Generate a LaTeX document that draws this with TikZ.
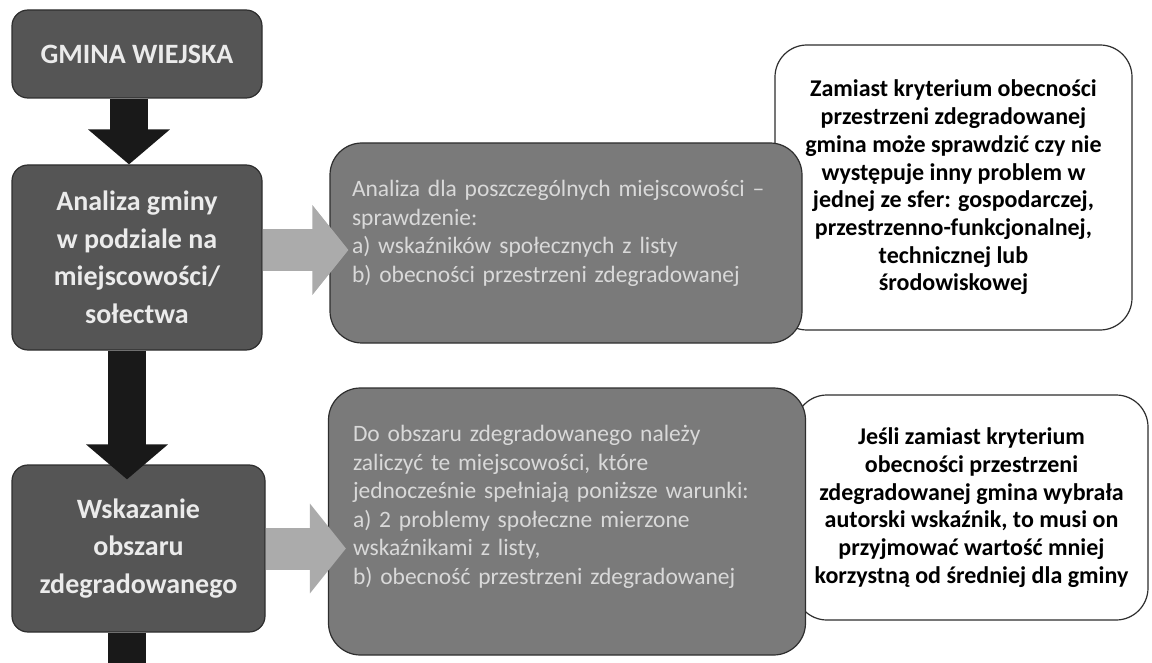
\documentclass[tikz,border=0pt]{standalone}
\usepackage{fontspec}
\setmainfont{Carlito}
\usetikzlibrary{arrows.meta, calc}
\definecolor{ciemny}{HTML}{555555}
\definecolor{sredni}{HTML}{7A7A7A}
\definecolor{jasny}{HTML}{ABABAB}
\definecolor{ramka}{HTML}{2E2E2E}
\tikzstyle{etap} = [rectangle, rounded corners=16pt, draw=ramka, line width=1.2pt, fill=ciemny, text=white!92!black, align=center, font=\fontsize{28}{37.5}\selectfont\bfseries]
\tikzstyle{opis} = [rectangle, rounded corners=32pt, draw=ramka, line width=1.2pt, fill=sredni, text=white!85!black, text width=428pt, align=left, font=\fontsize{23.5}{28.5}\selectfont]
\tikzstyle{uwaga} = [rectangle, rounded corners=32pt, draw=ramka, line width=1.2pt, fill=white, text=black, align=center, font=\fontsize{24}{27.7}\selectfont\bfseries]
\tikzstyle{czarna} = [line width=38pt, draw=black!90, -{Triangle[width=80pt,length=35pt]}]
\tikzstyle{szara} = [line width=42pt, draw=jasny, -{Triangle[width=88pt,length=36pt]}]

\begin{document}
\begin{tikzpicture}[x=1pt, y=-1pt]
\useasboundingbox (0,0) rectangle (1152,663);

\node (uwaga1) [uwaga, minimum width=357pt, minimum height=285pt] at (953.5,187.5) {Zamiast kryterium obecności\\przestrzeni zdegradowanej\\gmina może sprawdzić czy nie\\występuje inny problem w\\jednej ze sfer: gospodarczej,\\przestrzenno-funkcjonalnej,\\technicznej lub\\środowiskowej};
\node (uwaga2) [uwaga, minimum width=353pt, minimum height=225pt] at (971.5,507.5) {Jeśli zamiast kryterium\\obecności przestrzeni\\zdegradowanej gmina wybrała\\autorski wskaźnik, to musi on\\przyjmować wartość mniej\\korzystną od średniej dla gminy};

\node (opis1) [opis, minimum width=472pt, minimum height=200pt] at (566,243) {Analiza dla poszczególnych miejscowości –\\sprawdzenie:\\a) wskaźników społecznych z listy\\b) obecności przestrzeni zdegradowanej\rule[-23pt]{0pt}{23pt}};
\node (opis2) [opis, minimum width=477pt, minimum height=267pt] at (567,521.5) {Do obszaru zdegradowanego należy\\zaliczyć te miejscowości, które\\jednocześnie spełniają poniższe warunki:\\a) 2 problemy społeczne mierzone\\wskaźnikami z listy,\\b) obecność przestrzeni zdegradowanej\rule[-33pt]{0pt}{33pt}};

\node (gmina) [etap, minimum width=250pt, minimum height=88pt] at (137,54) {GMINA WIEJSKA};
\node (analiza) [etap, minimum width=250pt, minimum height=185pt] at (137,257.5) {Analiza gminy\\w podziale na\\miejscowości/\\sołectwa};
\node (wskazanie) [etap, minimum width=253pt, minimum height=167pt] at (138.5,548.5) {Wskazanie\\obszaru\\zdegradowanego};
\coordinate (dalej) at (127,663);

\draw [czarna] ([xshift=-8pt]gmina.south) -- ([xshift=-8pt]analiza.north);
\draw [czarna] ([xshift=-10pt]analiza.south) -- ([xshift=-11.5pt,yshift=-15pt]wskazanie.north);
\draw [line width=38pt, draw=black!90] ([xshift=-11.5pt]wskazanie.south) -- (dalej);

\draw [szara] ([yshift=7.5pt]analiza.east) -- ($(analiza.east -| opis1.west)+(19,-7.5)$);
\draw [szara] (wskazanie.east) -- ($(wskazanie.east -| opis2.west)+(18,0)$);

\end{tikzpicture}
\end{document}
